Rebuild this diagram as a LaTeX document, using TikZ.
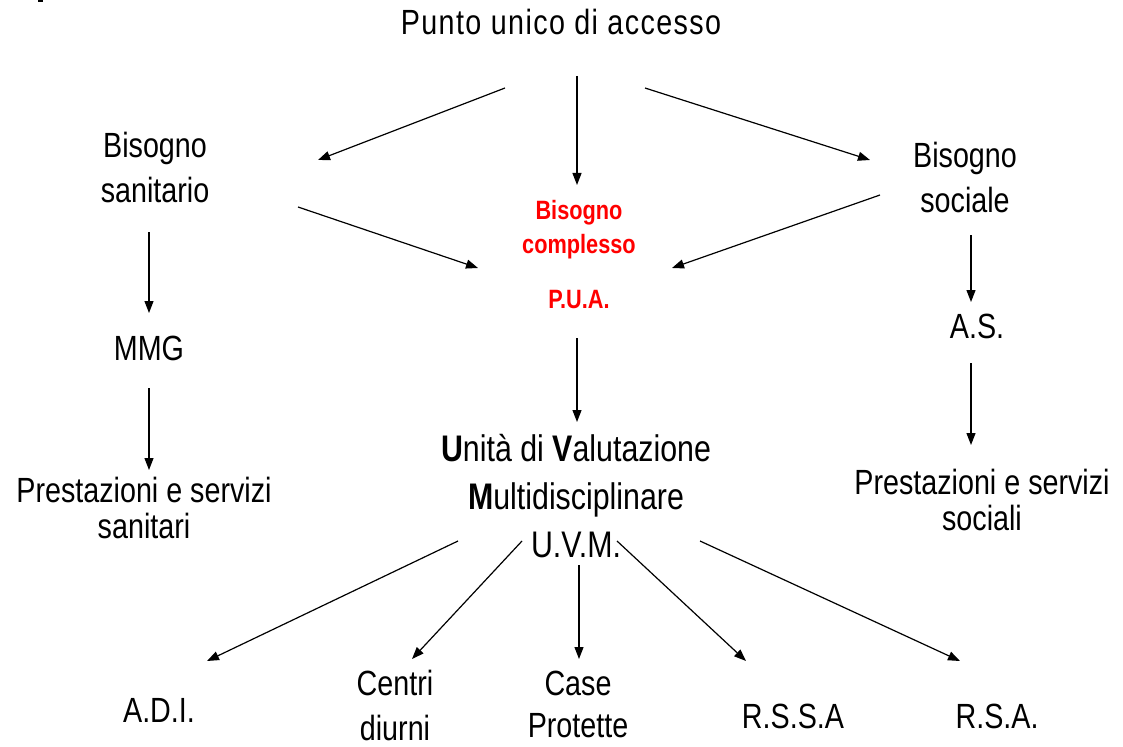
\documentclass[tikz,border=0pt]{standalone}
\usepackage{fontspec}
\setmainfont{Liberation Sans}[FakeStretch=0.82]
\newfontfamily\spacedfont{Liberation Sans}[FakeStretch=0.82,LetterSpace=4]
\usetikzlibrary{arrows.meta}
\definecolor{pured}{RGB}{255,0,0}
\tikzset{
  lbl/.style={inner sep=0pt, outer sep=0pt, align=center, anchor=base, font=\fontsize{35}{45}\selectfont},
  redlbl/.style={lbl, text=pured, font=\bfseries\fontsize{26.5}{34}\selectfont},
  arr/.style={-{Triangle[length=12pt,width=9pt]}, line width=1.2pt},
}
\begin{document}
\begin{tikzpicture}[x=1pt,y=-1pt]
\useasboundingbox (0,0) rectangle (1123,746);
\fill (38,0) rectangle (43,2);
% nodes (anchor = baseline of the last line)
\node[lbl, font=\spacedfont\fontsize{35}{40}\selectfont] (punto) at (561,35) {Punto unico di accesso};
\node[lbl] (bsan) at (155,202) {Bisogno\\sanitario};
\node[lbl] (bsoc) at (965,212) {Bisogno\\sociale};
\node[redlbl] (compl) at (579,253) {Bisogno\\complesso};
\node[redlbl] (pua) at (579,308) {P.U.A.};
\node[lbl] (mmg) at (149,360) {MMG};
\node[lbl] (as) at (977,338) {A.S.};
\node[lbl, font=\fontsize{35}{36}\selectfont] (psan) at (144,538) {Prestazioni e servizi\\sanitari};
\node[lbl, font=\fontsize{35}{36}\selectfont] (psoc) at (982,530) {Prestazioni e servizi\\sociali};
\node[lbl, font=\fontsize{37}{48}\selectfont] (uvm) at (576,557) {\textbf{U}nità di \textbf{V}alutazione\\\textbf{M}ultidisciplinare\\U.V.M.};
\node[lbl] (adi) at (159,722) {A.D.I.};
\node[lbl, font=\fontsize{35}{45}\selectfont] (centri) at (395,740) {Centri\\diurni};
\node[lbl, font=\fontsize{35}{42}\selectfont] (case) at (578,737) {Case\\Protette};
\node[lbl] (rssa) at (793,728) {R.S.S.A};
\node[lbl] (rsa) at (997,728) {R.S.A.};
% connector ends
\coordinate (a1s) at (505,88);  \coordinate (a1e) at (318,160);
\coordinate (a2s) at (577,76);  \coordinate (a2e) at (577,185);
\coordinate (a3s) at (645,88);  \coordinate (a3e) at (870,160);
\coordinate (a4s) at (298,207); \coordinate (a4e) at (478,268);
\coordinate (a5s) at (880,195); \coordinate (a5e) at (672,268);
\coordinate (a6s) at (149,232); \coordinate (a6e) at (149,313);
\coordinate (a7s) at (149,388); \coordinate (a7e) at (149,470);
\coordinate (a8s) at (971,235); \coordinate (a8e) at (971,302);
\coordinate (a9s) at (971,363); \coordinate (a9e) at (971,445);
\coordinate (a10s) at (577,338); \coordinate (a10e) at (577,422);
\coordinate (a11s) at (458,541); \coordinate (a11e) at (207,661);
\coordinate (a12s) at (522,541); \coordinate (a12e) at (412,659);
\coordinate (a13s) at (579,565); \coordinate (a13e) at (579,659);
\coordinate (a14s) at (617,541); \coordinate (a14e) at (746,661);
\coordinate (a15s) at (700,541); \coordinate (a15e) at (960,661);
% connectors
\draw[arr] (a1s) -- (a1e);
\draw[arr] (a2s) -- (a2e);
\draw[arr] (a3s) -- (a3e);
\draw[arr] (a4s) -- (a4e);
\draw[arr] (a5s) -- (a5e);
\draw[arr] (a6s) -- (a6e);
\draw[arr] (a7s) -- (a7e);
\draw[arr] (a8s) -- (a8e);
\draw[arr] (a9s) -- (a9e);
\draw[arr] (a10s) -- (a10e);
\draw[arr] (a11s) -- (a11e);
\draw[arr] (a12s) -- (a12e);
\draw[arr] (a13s) -- (a13e);
\draw[arr] (a14s) -- (a14e);
\draw[arr] (a15s) -- (a15e);
\end{tikzpicture}
\end{document}
